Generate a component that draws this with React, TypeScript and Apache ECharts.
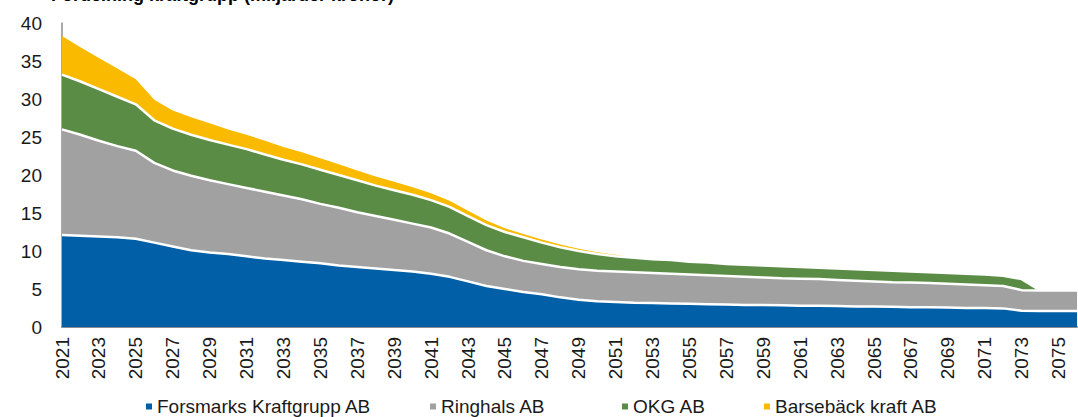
import React, { useEffect, useRef } from "react";
import * as echarts from "echarts";

const years = [
  "2021","2022","2023","2024","2025","2026","2027","2028","2029","2030",
  "2031","2032","2033","2034","2035","2036","2037","2038","2039","2040",
  "2041","2042","2043","2044","2045","2046","2047","2048","2049","2050",
  "2051","2052","2053","2054","2055","2056","2057","2058","2059","2060",
  "2061","2062","2063","2064","2065","2066","2067","2068","2069","2070",
  "2071","2072","2073","2074","2075","2076",
];

const forsmark = [
  12.1, 12.0, 11.9, 11.8, 11.6, 11.1, 10.6, 10.1, 9.8, 9.6,
  9.3, 9.0, 8.8, 8.6, 8.4, 8.1, 7.9, 7.7, 7.5, 7.3,
  7.0, 6.6, 6.0, 5.4, 5.0, 4.6, 4.3, 3.9, 3.6, 3.4,
  3.3, 3.2, 3.15, 3.1, 3.05, 3.0, 2.95, 2.9, 2.9, 2.85,
  2.8, 2.8, 2.75, 2.7, 2.7, 2.65, 2.6, 2.6, 2.55, 2.5,
  2.5, 2.45, 2.15, 2.1, 2.1, 2.1,
];

const ringhals = [
  13.9, 13.3, 12.6, 12.0, 11.6, 10.5, 10.0, 9.8, 9.5, 9.2,
  9.0, 8.8, 8.5, 8.2, 7.8, 7.6, 7.2, 6.9, 6.6, 6.3,
  6.1, 5.7, 5.2, 4.7, 4.3, 4.1, 4.0, 4.0, 4.0, 4.0,
  4.0, 4.0, 3.95, 3.9, 3.85, 3.8, 3.75, 3.7, 3.6, 3.55,
  3.55, 3.5, 3.45, 3.4, 3.3, 3.25, 3.25, 3.2, 3.15, 3.1,
  3.0, 2.95, 2.7, 2.7, 2.7, 2.7,
];

const okg = [
  7.2, 7.0, 6.8, 6.5, 6.1, 5.6, 5.5, 5.4, 5.3, 5.2,
  5.1, 4.9, 4.7, 4.6, 4.5, 4.3, 4.2, 4.0, 3.9, 3.8,
  3.6, 3.5, 3.4, 3.3, 3.2, 3.1, 2.8, 2.6, 2.4, 2.2,
  2.0, 1.9, 1.8, 1.8, 1.7, 1.7, 1.6, 1.6, 1.6, 1.6,
  1.55, 1.5, 1.5, 1.5, 1.5, 1.5, 1.45, 1.4, 1.4, 1.4,
  1.4, 1.35, 1.45, 0, 0, 0,
];

const barseback = [
  5.1, 4.5, 4.1, 3.7, 3.3, 2.7, 2.4, 2.3, 2.2, 2.0,
  1.9, 1.8, 1.7, 1.6, 1.5, 1.4, 1.3, 1.2, 1.1, 1.0,
  0.9, 0.8, 0.7, 0.6, 0.5, 0.45, 0.4, 0.35, 0.3, 0.25,
  0.2, 0, 0, 0, 0, 0, 0, 0, 0, 0,
  0, 0, 0, 0, 0, 0, 0, 0, 0, 0,
  0, 0, 0, 0, 0, 0,
];

const seriesNames = [
  "Forsmarks Kraftgrupp AB",
  "Ringhals AB",
  "OKG AB",
  "Barsebäck kraft AB",
];
const seriesData = [forsmark, ringhals, okg, barseback];
const seriesColors = ["#005FA6", "#A1A1A1", "#5B8C46", "#FABA00"];
const lineWidths = [2.5, 2.5, 2.5, 0];
const legendLefts = [146, 430, 622, 764];

const titleText = "Fördelning kraftgrupp (miljarder kronor)";
const FONT = '"Liberation Sans", Arial, Helvetica, sans-serif';

export default function App() {
  const ref = useRef<HTMLDivElement>(null);

  useEffect(() => {
    if (!ref.current) return;
    const chart = echarts.init(ref.current, null, { renderer: "svg" });
    chart.setOption({
      animation: false,
      backgroundColor: "#ffffff",
      textStyle: { fontFamily: FONT },
      grid: { left: 62, right: 1, top: 23, bottom: 90, containLabel: false },
      graphic: [
        {
          type: "text",
          left: 51,
          top: -14,
          style: {
            text: titleText,
            font: `bold 18px ${FONT}`,
            fill: "#000",
          },
        },
      ],
      legend: seriesNames.map((n, i) => ({
        data: [n],
        left: legendLefts[i],
        top: 397,
        icon: "rect",
        itemWidth: 6,
        itemHeight: 6,
        itemGap: 0,
        padding: 0,
        selectedMode: false,
        textStyle: { fontSize: 19, color: "#1a1a1a", fontFamily: FONT },
      })),
      xAxis: {
        type: "category",
        data: years,
        boundaryGap: false,
        axisLine: { show: true, lineStyle: { color: "#8c8c8c", width: 2 } },
        axisTick: { show: false },
        axisLabel: {
          interval: 1,
          rotate: 90,
          fontSize: 19,
          color: "#1a1a1a",
          margin: 10,
          fontFamily: FONT,
        },
        splitLine: { show: false },
      },
      yAxis: {
        type: "value",
        min: 0,
        max: 40,
        interval: 5,
        axisLine: { show: true, lineStyle: { color: "#8c8c8c", width: 1.5 } },
        axisTick: { show: false },
        splitLine: { show: false },
        axisLabel: { fontSize: 19, color: "#1a1a1a", margin: 20, fontFamily: FONT },
      },
      series: seriesNames.map((n, i) => ({
        name: n,
        type: "line",
        stack: "total",
        data: seriesData[i],
        showSymbol: false,
        symbol: "none",
        smooth: false,
        z: 6 - i,
        itemStyle: { color: seriesColors[i] },
        lineStyle: { color: "#ffffff", width: lineWidths[i] },
        areaStyle: { color: seriesColors[i], opacity: 1 },
      })),
    });
    return () => chart.dispose();
  }, []);

  return (
    <div
      ref={ref}
      style={{ position: "fixed", left: 0, top: 0, width: 1078, height: 417 }}
    />
  );
}
